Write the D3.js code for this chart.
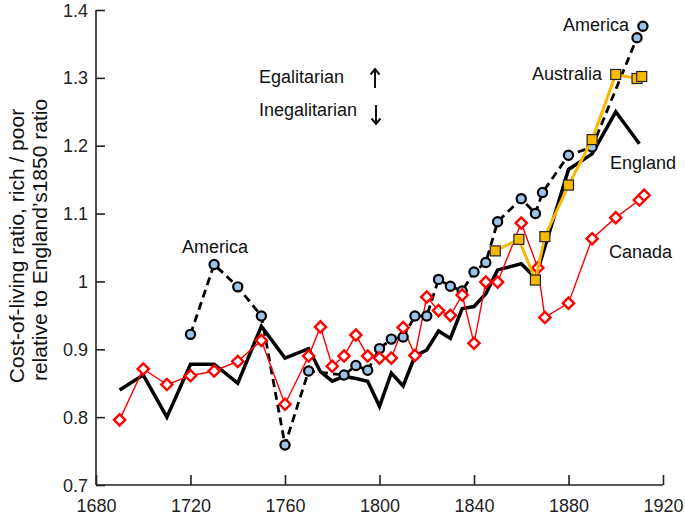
<!DOCTYPE html>
<html><head><meta charset="utf-8">
<script src="https://cdn.jsdelivr.net/npm/d3@7"></script>
<style>
html,body{margin:0;padding:0;background:#fff;}
svg{display:block;font-family:"Liberation Sans",Arial,sans-serif;}
</style></head>
<body><svg id="c" width="685" height="517"></svg>
<script>
// ---- data ----
const englandYears = [1690,1700,1710,1720,1730,1740,1750,1760,1770,1775,1780,1785,1790,1795,1800,1805,1810,1815,1820,1825,1830,1835,1840,1845,1850,1860,1866,1880,1890,1900,1910];
const englandVals  = [0.840,0.862,0.800,0.878,0.878,0.850,0.934,0.887,0.901,0.867,0.853,0.860,0.857,0.853,0.816,0.865,0.846,0.890,0.899,0.927,0.916,0.960,0.963,0.982,1.017,1.026,1.005,1.165,1.188,1.250,1.203];

const americaYears = [1720,1730,1740,1750,1760,1770,1785,1790,1795,1800,1805,1810,1815,1820,1825,1830,1835,1840,1845,1850,1860,1866,1869,1880,1890,1909,1911.5];
const americaVals  = [0.922,1.025,0.992,0.949,0.759,0.868,0.862,0.876,0.869,0.901,0.915,0.918,0.949,0.949,1.003,0.993,0.986,1.014,1.028,1.088,1.122,1.100,1.131,1.186,1.198,1.359,1.376];

const canadaYears = [1690,1700,1710,1720,1730,1740,1750,1760,1770,1775,1780,1785,1790,1795,1800,1805,1810,1815,1820,1825,1830,1835,1840,1845,1850,1860,1867,1870,1880,1890,1900,1910,1912];
const canadaVals  = [0.796,0.871,0.848,0.861,0.868,0.882,0.913,0.819,0.890,0.933,0.875,0.890,0.921,0.890,0.887,0.887,0.932,0.891,0.977,0.957,0.950,0.980,0.909,0.999,0.999,1.086,1.020,0.947,0.968,1.063,1.094,1.120,1.127];

const australiaYears = [1849,1859,1866,1870,1880,1890,1900,1909,1911];
const australiaVals  = [1.045,1.062,1.002,1.066,1.142,1.209,1.305,1.299,1.302];

const xTicks = [1680,1720,1760,1800,1840,1880,1920];
const yTicks = [0.7,0.8,0.9,1.0,1.1,1.2,1.3,1.4];
const yTickLabels = ["0.7","0.8","0.9","1","1.1","1.2","1.3","1.4"];

const yTitle1 = "Cost-of-living ratio, rich / poor";
const yTitle2 = "relative to England\u2019s1850 ratio";

// ---- layout ----
const svg = d3.select("#c");
const x = d3.scaleLinear().domain([1680,1920]).range([96,663]);
const y = d3.scaleLinear().domain([0.7,1.4]).range([485,10]);
const FS = 18;

const zip = (a,b)=>a.map((d,i)=>({x:d,y:b[i]}));
const england = zip(englandYears, englandVals);
const america = zip(americaYears, americaVals);
const canada = zip(canadaYears, canadaVals);
const australia = zip(australiaYears, australiaVals);

const line = d3.line().x(d=>x(d.x)).y(d=>y(d.y));

// axes
const xAxis = d3.axisBottom(x).tickValues(xTicks).tickFormat(d3.format("d")).tickSize(-10).tickPadding(14);
const gx = svg.append("g").attr("transform","translate(0,485)").call(xAxis);
const yAxis = d3.axisLeft(y).tickValues(yTicks).tickFormat((d,i)=>yTickLabels[i]).tickSize(-9).tickPadding(8);
const gy = svg.append("g").attr("transform","translate(96,0)").call(yAxis);
[gx,gy].forEach(g=>{
  g.select(".domain").attr("stroke","#222").attr("stroke-width",1.6);
  g.selectAll(".tick line").attr("stroke","#222").attr("stroke-width",1.6);
  g.selectAll(".tick text").attr("fill","#222").style("font-size",FS+"px").style("font-family","Liberation Sans, Arial, sans-serif");
});
gx.select(".domain").attr("d","M96,0H663");
gy.select(".domain").attr("d","M0,10V485");
gy.selectAll(".tick text").attr("dy","0.34em");
gx.selectAll(".tick text").attr("dy","0.71em");

// y title
const tg = svg.append("g").attr("transform","translate(0,246) rotate(-90)");
tg.append("text").attr("x",0).attr("y",24).attr("text-anchor","middle").style("font-size","21px").attr("fill","#111").text(yTitle1);
tg.append("text").attr("x",6).attr("y",47).attr("text-anchor","middle").style("font-size","21px").attr("fill","#111").text(yTitle2);

// England line
svg.append("path").datum(england).attr("d",line).attr("fill","none").attr("stroke","#000").attr("stroke-width",3.5).attr("stroke-linejoin","miter");

// America dashed line
svg.append("path").datum(america).attr("d",line).attr("fill","none").attr("stroke","#000").attr("stroke-width",2.8).attr("stroke-dasharray","8,5");

// Canada line
svg.append("path").datum(canada).attr("d",line).attr("fill","none").attr("stroke","#ff0000").attr("stroke-width",1.4);

// America markers
svg.append("g").selectAll("circle").data(america).join("circle")
  .attr("cx",d=>x(d.x)).attr("cy",d=>y(d.y)).attr("r",4.6)
  .attr("fill","#9dc3e6").attr("stroke","#000").attr("stroke-width",2.2);

// Canada diamonds
const ds = 5.6;
svg.append("g").selectAll("path").data(canada).join("path")
  .attr("d",d=>{const cx=x(d.x), cy=y(d.y); return `M${cx},${cy-ds}L${cx+ds},${cy}L${cx},${cy+ds}L${cx-ds},${cy}Z`;})
  .attr("fill","#fff").attr("stroke","#ff0000").attr("stroke-width",2.4);

// Australia line + squares
svg.append("path").datum(australia).attr("d",line).attr("fill","none").attr("stroke","#f7b900").attr("stroke-width",3);
const sq = 10;
svg.append("g").selectAll("rect").data(australia).join("rect")
  .attr("x",d=>x(d.x)-sq/2).attr("y",d=>y(d.y)-sq/2).attr("width",sq).attr("height",sq)
  .attr("fill","#f7b900").attr("stroke","#222").attr("stroke-width",1.2);

// labels
const lab = (t,xx,yy,anchor)=>svg.append("text").attr("x",xx).attr("y",yy).attr("text-anchor",anchor||"start").style("font-size",FS+"px").attr("fill","#111").text(t);
lab("America",182,253);
lab("America",629,31,"end");
lab("Australia",602,80,"end");
lab("England",610,169);
lab("Canada",609,258);
lab("Egalitarian",259,83);
lab("Inegalitarian",259,116);

// arrows
const arrows = svg.append("g").attr("stroke","#111").attr("stroke-width",2).attr("fill","none").attr("stroke-linecap","butt");
arrows.append("path").attr("d","M375,88V69M370.5,74.5L375,69L379.5,74.5");
arrows.append("path").attr("d","M376,105V124M371.5,118.5L376,124L380.5,118.5");
</script></body></html>
